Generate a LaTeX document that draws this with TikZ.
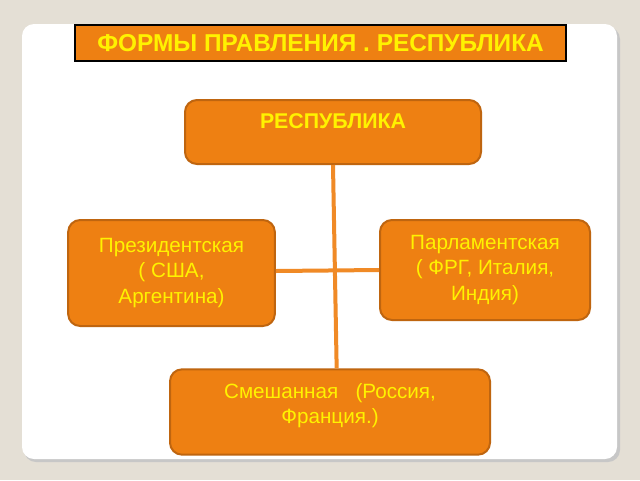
\documentclass[tikz,border=0pt]{standalone}
\usepackage{fontspec}
\setmainfont{Liberation Sans}

\definecolor{pagebeige}{HTML}{E4DFD5}
\definecolor{formorange}{HTML}{EE8012}
\definecolor{formedge}{HTML}{BF650F}
\definecolor{linkorange}{HTML}{F08A26}
\definecolor{formyellow}{HTML}{FFF200}

\tikzset{every picture/.style={line width=0.75pt}}
\tikzset{
  formbox/.style={draw=formedge, line width=1.5pt, fill=formorange, rounded corners=9pt,
    text=formyellow, align=center, inner sep=0pt, font=\fontsize{15.5}{19}\selectfont},
  link/.style={draw=linkorange, line width=3pt}
}

\begin{document}
\begin{tikzpicture}[x=0.75pt,y=0.75pt,yscale=-1,xscale=1]
\useasboundingbox (0,0) rectangle (640,480);

%Background
\fill[pagebeige] (0,0) rectangle (640,480);
%Panel shadow and panel
\fill[black!22, rounded corners=9pt] (24,27) rectangle (620,462);
\fill[white, rounded corners=9pt] (22,24) rectangle (617,459);

%Title
\node[draw=black, line width=1.5pt, fill=formorange, text=formyellow, minimum width=368.25pt, minimum height=27pt, inner sep=0pt,
  font=\bfseries\fontsize{18.3}{20}\selectfont] (title) at (320.5,43) {ФОРМЫ ПРАВЛЕНИЯ . РЕСПУБЛИКА};

%Boxes
\node[formbox, minimum width=222pt, minimum height=48pt, font=\bfseries\fontsize{16}{19}\selectfont] (rep) at (333,132) {РЕСПУБЛИКА\\[-9pt] \strut};
\node[formbox, minimum width=155pt, minimum height=79.5pt] (pres) at (171.5,273) {Президентская\\( США,\\Аргентина)};
\node[formbox, minimum width=157.5pt, minimum height=75pt] (parl) at (485,270) {Парламентская\\( ФРГ, Италия,\\Индия)};
\node[formbox, minimum width=240pt, minimum height=64pt] (mixed) at (330,412) {Смешанная\ \ \ (Россия,\\Франция.)\\[-12pt]\strut};

%Links
\draw[link] (rep.south) -- ([xshift=5pt]mixed.north);
\draw[link] (pres.east) ++(0,-2) -- (parl.west);

\end{tikzpicture}
\end{document}
